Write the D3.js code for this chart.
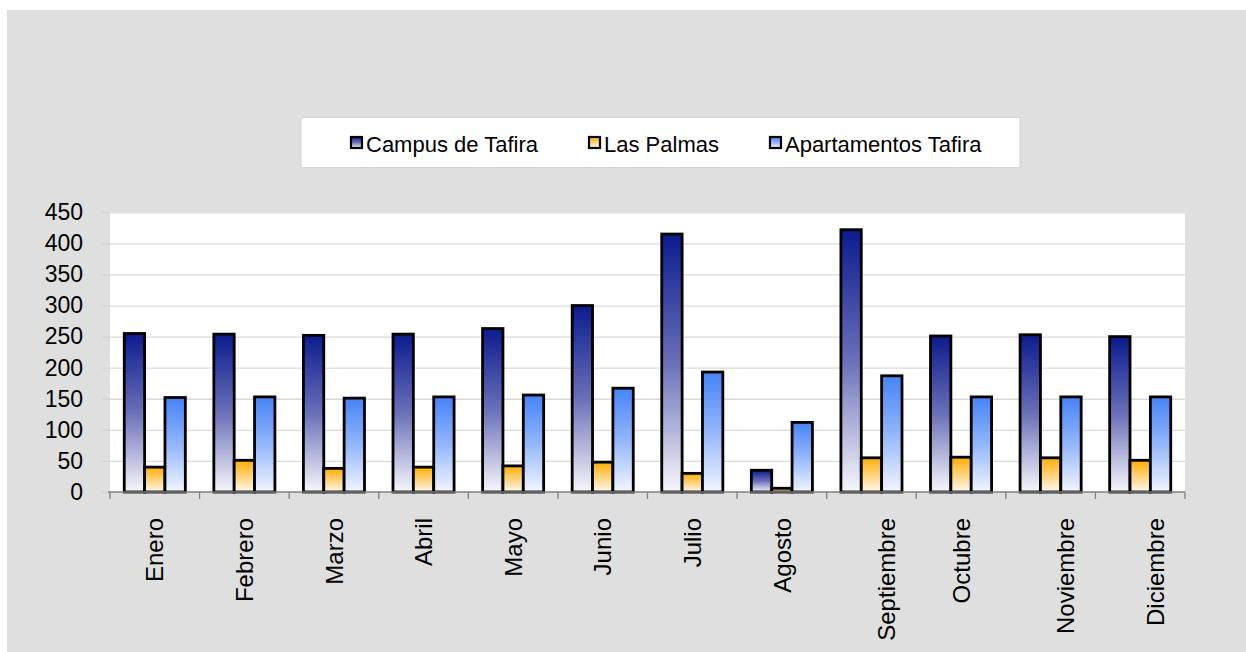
<!DOCTYPE html>
<html><head><meta charset="utf-8">
<script src="https://cdn.jsdelivr.net/npm/d3@7"></script>
<style>
html,body{margin:0;padding:0;background:#fff;}
svg{display:block;font-family:"Liberation Sans",Arial,Helvetica,sans-serif;}
</style></head>
<body><svg id="chart" width="1246" height="652"></svg>
<script>
const months = ["Enero","Febrero","Marzo","Abril","Mayo","Junio","Julio","Agosto","Septiembre","Octubre","Noviembre","Diciembre"];
const seriesNames = ["Campus de Tafira","Las Palmas","Apartamentos Tafira"];
const campusTafira = [255,254,252,254,263,300,415,35,422,251,253,250];
const lasPalmas = [40,51,38,40,42,48,30,6,55,56,55,51];
const apartamentosTafira = [152,153,151,153,156,167,193,112,187,153,153,153];
const yTicks = [0,50,100,150,200,250,300,350,400,450];

const seriesValues = [campusTafira, lasPalmas, apartamentosTafira];
const gradStops = [
  ["#0b1b8e","#6a70b8","#f7f7fb"],
  ["#ffae00","#ffd27a","#fff8ee"],
  ["#4583f6","#93b6fb","#f2f6ff"]
];

const svg = d3.select("#chart");
const W = 1246, H = 652;

svg.append("rect").attr("x",7).attr("y",10).attr("width",W-7).attr("height",H-10).attr("fill","#dfdfdf");

const defs = svg.append("defs");
gradStops.forEach((s,i)=>{
  const g = defs.append("linearGradient").attr("id","g"+i).attr("x1",0).attr("y1",0).attr("x2",0).attr("y2",1);
  g.append("stop").attr("offset","0%").attr("stop-color",s[0]);
  g.append("stop").attr("offset","50%").attr("stop-color",s[1]);
  g.append("stop").attr("offset","100%").attr("stop-color",s[2]);
});

const plot = {left:110, right:1185, top:212.3, bottom:492};

const x = d3.scaleBand().domain(months).range([plot.left, plot.right]).paddingInner(0).paddingOuter(0);
const xs = d3.scaleBand().domain(seriesNames).range([0, x.bandwidth()]).paddingInner(0).paddingOuter(0.7);
const y = d3.scaleLinear().domain([0,450]).range([plot.bottom, plot.top]);

svg.append("rect").attr("x",plot.left).attr("y",plot.top).attr("width",plot.right-plot.left).attr("height",plot.bottom-plot.top).attr("fill","#fff");

const yAxis = d3.axisLeft(y).tickValues(yTicks).tickSize(8).tickPadding(19);
const yg = svg.append("g").attr("transform",`translate(${plot.left},0)`).call(yAxis);
yg.select(".domain").remove();
yg.selectAll(".tick line").attr("stroke","#d4d4d4").attr("stroke-width",1.3);
yg.selectAll(".tick text").attr("font-size",23).attr("fill","#000").attr("font-family","Liberation Sans, Arial, sans-serif");
svg.append("g").attr("transform",`translate(${plot.left},0)`)
  .call(d3.axisLeft(y).tickValues(yTicks.slice(1)).tickSize(-(plot.right-plot.left)).tickFormat(""))
  .call(g=>{g.select(".domain").remove(); g.selectAll(".tick line").attr("stroke","#d9d9d9").attr("stroke-width",1.3);});

const groups = svg.append("g").selectAll("g").data(months).join("g")
  .attr("transform",d=>`translate(${x(d)},0)`);
groups.selectAll("rect").data((m,i)=>seriesNames.map((s,j)=>({s,j,v:seriesValues[j][i]}))).join("rect")
  .attr("x",d=>xs(d.s)).attr("width",xs.bandwidth())
  .attr("y",d=>y(d.v)).attr("height",d=>y(0)-y(d.v))
  .attr("fill",d=>`url(#g${d.j})`).attr("stroke","#000").attr("stroke-width",2.8);

const xAxis = d3.axisBottom(x).tickSize(0).tickFormat("");
const xg = svg.append("g").attr("transform",`translate(0,${plot.bottom})`).call(xAxis);
xg.select(".domain").attr("stroke","#808080").attr("stroke-width",1.3).attr("d",`M${plot.left-2},0H${plot.right}`);
const bounds = months.map(m=>x(m)).concat([plot.right]);
xg.selectAll("line.b").data(bounds).join("line").attr("class","b")
  .attr("x1",d=>d).attr("x2",d=>d).attr("y1",0).attr("y2",7).attr("stroke","#808080").attr("stroke-width",1.3);

svg.append("g").selectAll("text").data(months).join("text")
  .attr("transform",d=>`translate(${x(d)+x.bandwidth()/2 + (d.length>=9?15:0)},518) rotate(-90)`)
  .attr("text-anchor","end").attr("dy","0.36em")
  .attr("font-size",24).attr("fill","#000").text(d=>d);

const lg = svg.append("g");
lg.append("rect").attr("x",301).attr("y",117.5).attr("width",719).attr("height",50).attr("fill","#fff").attr("stroke","#d2d2d2").attr("stroke-width",1);
let cx = 351;
seriesNames.forEach((s,i)=>{
  lg.append("rect").attr("x",cx).attr("y",137).attr("width",11).attr("height",11).attr("fill",`url(#g${i})`).attr("stroke","#000").attr("stroke-width",2.2);
  const t = lg.append("text").attr("x",cx+15).attr("y",152).attr("font-size",22).attr("fill","#000").text(s);
  const w = t.node().getComputedTextLength();
  cx = cx + 15 + w + 51;
});
</script></body></html>
